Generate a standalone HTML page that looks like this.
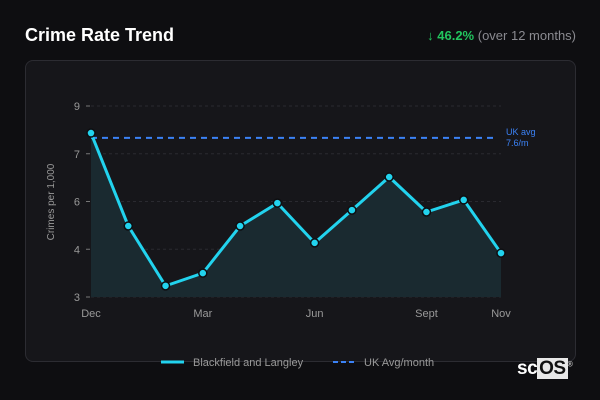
<!DOCTYPE html>
<html><head><meta charset="utf-8"><style>
body{margin:0;width:600px;height:400px;background:#0e0e11;font-family:"Liberation Sans",sans-serif;position:relative;overflow:hidden}
.t{position:absolute;left:25px;top:25px;color:#fff;font-weight:bold;font-size:18px}
.ch{position:absolute;right:24px;top:28px;font-size:13px;color:#8a8a90}
.ch b{color:#22c55e}
.card{position:absolute;left:25px;top:60px;width:549px;height:300px;border:1px solid #2c2c32;border-radius:8px;background:#16161a}
svg{position:absolute;left:0;top:0}
.logo{position:absolute;left:517px;top:358px;font-size:19px;font-weight:bold;color:#fff;letter-spacing:-0.5px}
.logo span{background:#e8e8e8;color:#111;padding:0 2px}
.logo sup{font-size:7px;color:#ccc}
</style></head><body>
<div class="t">Crime Rate Trend</div>
<div class="ch"><b>↓ 46.2%</b> (over 12 months)</div>
<div class="card"></div>
<svg id="c" width="600" height="400"></svg>
<div class="logo">sc<span>OS</span><sup>®</sup></div>
<script>
const months=["Dec","Jan","Feb","Mar","Apr","May","Jun","Jul","Aug","Sept","Oct","Nov"];
const values=[8.15,5.23,3.35,3.75,5.23,5.95,4.70,5.73,6.77,5.67,6.05,4.38];
const tickValues=[3,4.5,6,7.5,9];
const tickLabels=["3","4","6","7","9"];
const xLabelIdx=[0,3,6,9,11];
const ukAvg=[8.0];
const ns="http://www.w3.org/2000/svg",s=document.getElementById('c');
const X=i=>91+i*(410/(months.length-1));
const Y=v=>297-(v-3)*191/6;
function el(t,a,txt){const e=document.createElementNS(ns,t);for(const k in a)e.setAttribute(k,a[k]);if(txt!=null)e.textContent=txt;s.appendChild(e);return e;}
tickValues.forEach((v,i)=>{
 const g=el('line',{x1:91,x2:501,y1:Y(v),y2:Y(v),stroke:'#2a2a30','stroke-dasharray':'3,3'});
 
 
 const tk=el('line',{x1:86,x2:90,y1:Y(v),y2:Y(v),stroke:'#777'});
 
 
 const t=el('text',{x:80,y:Y(v)+4,'text-anchor':'end',fill:'#999','font-size':11},tickLabels[i]);
 
 
});
xLabelIdx.forEach(i=>{
 const t=el('text',{x:X(i),y:317,'text-anchor':'middle',fill:'#999','font-size':11},months[i]);
 
 
});
const yt=el('text',{x:0,y:0,transform:'translate(54,202) rotate(-90)','text-anchor':'middle',fill:'#999','font-size':10},'Crimes per 1,000');


let d=values.map((v,i)=>(i?'L':'M')+X(i)+','+Y(v)).join(' ');
const area=el('path',{d:d+` L${X(values.length-1)},297 L${X(0)},297 Z`,fill:'#1a2a30'});


const uk=el('line',{x1:91,x2:498,y1:Y(ukAvg[0]),y2:Y(ukAvg[0]),stroke:'#3b82f6','stroke-width':2,'stroke-dasharray':'6,5'});


const ul=el('text',{x:506,y:Y(ukAvg[0])-3,fill:'#3b82f6','font-size':9},'UK avg');


const ul2=el('text',{x:506,y:Y(ukAvg[0])+8,fill:'#3b82f6','font-size':9},'7.6/m');


const ln=el('path',{d:d,fill:'none',stroke:'#22d3ee','stroke-width':3,'stroke-linejoin':'round'});


values.forEach((v,i)=>{
 const c=el('circle',{cx:X(i),cy:Y(v),r:4,fill:'#22d3ee',stroke:'#0e0e11','stroke-width':1.5});
 
 
});
const l1=el('line',{x1:161,x2:184,y1:362,y2:362,stroke:'#22d3ee','stroke-width':3});


const lt1=el('text',{x:193,y:366,fill:'#999','font-size':11},'Blackfield and Langley');


const l2=el('line',{x1:333,x2:356,y1:362,y2:362,stroke:'#3b82f6','stroke-width':2,'stroke-dasharray':'5,3'});


const lt2=el('text',{x:364,y:366,fill:'#999','font-size':11},'UK Avg/month');


</script>
</body></html>
